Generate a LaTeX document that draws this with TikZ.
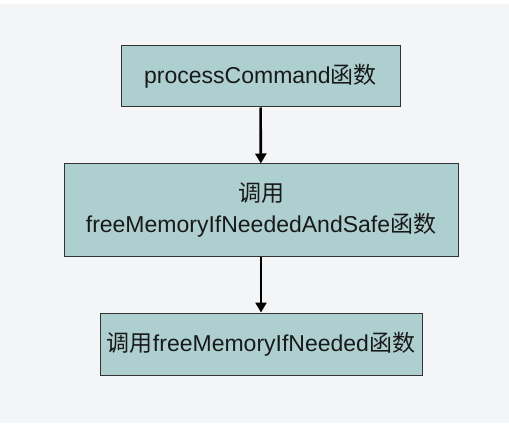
\documentclass[tikz,border=0pt]{standalone}
\usepackage{fontspec}
\setmainfont{Liberation Sans}
\newfontfamily\cjk{Noto Sans CJK SC}
\usetikzlibrary{arrows.meta}
\definecolor{bgc}{HTML}{F4F5F7}
\definecolor{boxc}{HTML}{AECFD0}
\definecolor{edgec}{HTML}{333333}
\begin{document}
\begin{tikzpicture}[x=1pt,y=-1pt,
  fbox/.style={draw=edgec,line width=1pt,fill=boxc,inner sep=0pt,align=center,
    text=black!90,font=\fontsize{23}{30.5}\selectfont},
  conn/.style={line width=2.6pt,-{Triangle[width=11pt,length=10pt]}}]
\useasboundingbox (0,0) rectangle (509,425);
\fill[white] (0,0) rectangle (509,425);
\fill[bgc] (0,4) rectangle (509,423);
\node[fbox,minimum width=279pt,minimum height=61pt] (a) at (260.5,76.5) {processCommand{\cjk 函数}};
\node[fbox,minimum width=394pt,minimum height=92pt] (b) at (261,210) {{\cjk 调用}\\freeMemoryIfNeededAndSafe{\cjk 函数}};
\node[fbox,minimum width=322pt,minimum height=62pt] (c) at (261,344) {{\cjk 调用}freeMemoryIfNeeded{\cjk 函数}};
\draw[conn] (a) -- (b);
\draw[conn] (b) -- (c);
\end{tikzpicture}
\end{document}
